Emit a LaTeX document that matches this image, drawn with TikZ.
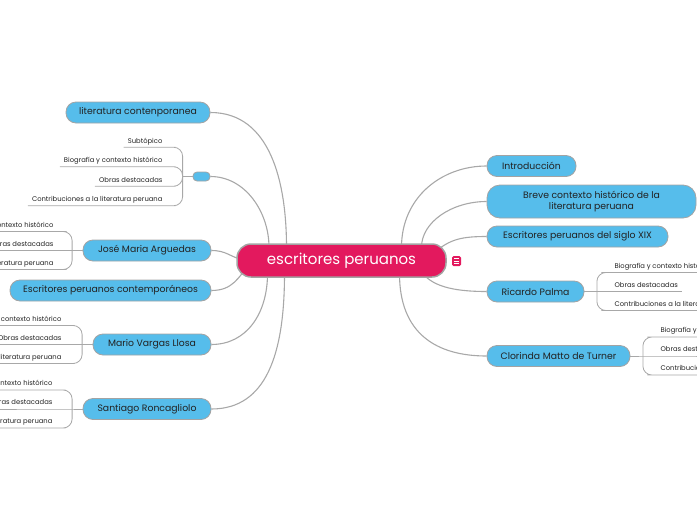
\documentclass[tikz,border=0pt]{standalone}
\usepackage{fontspec}
\setmainfont{Poppins}
\usepackage{xcolor}
\usetikzlibrary{backgrounds}

\definecolor{xanh}{HTML}{56BDEB}
\definecolor{hong}{HTML}{E3195E}
\definecolor{vien}{HTML}{A3A3A3}
\definecolor{day}{HTML}{A8A8A8}
\definecolor{chu}{HTML}{222222}

\begin{document}
\begin{tikzpicture}[x=1pt, y=-1pt,
    chude/.style={draw=vien, line width=0.8pt, fill=xanh, rounded corners=10pt,
        minimum height=21pt, inner sep=0pt, text=chu, font=\fontsize{9.3}{11}\selectfont},
    goc/.style={draw=vien, line width=1.5pt, fill=hong, rounded corners=14pt,
        minimum width=209pt, minimum height=33pt, text=white, font=\fontsize{15}{18}\selectfont},
    phu/.style={inner xsep=4pt, inner ysep=2.5pt, text height=5pt, text depth=1.5pt,
        text=chu, font=\fontsize{6.8}{8}\selectfont},
    noi/.style={draw=day, line width=1.1pt},
    nhanh/.style={draw=day, line width=0.8pt, rounded corners=9pt}]
    \useasboundingbox (0,0) rectangle (697,520);
    \clip (0,0) rectangle (697,520);

    % Nút gốc
    \node[goc] (goc) at (341.5,260.5) {escritores peruanos};
    \node[fill=hong, rounded corners=1.5pt, minimum width=9pt, minimum height=10pt, inner sep=0pt] (ghichu) at (456.5,261) {};
    \foreach \k in {-2.3,0,2.3}
        \draw[white, line width=0.8pt] ([xshift=-2.3pt, yshift=\k pt]ghichu.center) -- ++(4.6pt,0);

    % Các chủ đề bên trái
    \node[chude, minimum width=144pt] (lit) at (138,112.5) {literatura contenporanea};
    \node[chude, minimum width=17pt, minimum height=9pt, rounded corners=4pt] (rong) at (201.5,176.5) {};
    \node[chude, minimum width=128pt] (jose) at (147,250.5) {José Maria Arguedas};
    \node[chude, minimum width=201pt] (esc) at (110.5,290.5) {Escritores peruanos contemporáneos};
    \node[chude, minimum width=118pt] (mario) at (152,344.5) {Mario Vargas Llosa};
    \node[chude, minimum width=128pt] (santiago) at (147,409) {Santiago Roncagliolo};

    % Các chủ đề bên phải
    \node[chude, minimum width=89pt] (intro) at (531.5,166) {Introducción};
    \node[chude, minimum width=209pt, minimum height=33pt, rounded corners=13pt, align=center] (breve) at (591.5,201.5)
        {Breve contexto histórico de la\\literatura peruana};
    \node[chude, minimum width=181pt] (siglo) at (577.5,236.5) {Escritores peruanos del siglo XIX};
    \node[chude, minimum width=97pt] (ricardo) at (535.5,291.5) {Ricardo Palma};
    \node[chude, minimum width=143pt] (clorinda) at (558.5,356) {Clorinda Matto de Turner};

    % Đường nối từ nút gốc
    \begin{scope}[on background layer]
        \draw[noi] ([xshift=-55pt, yshift=-4pt]goc.north) .. controls +(0,-65) and +(60,0) .. (lit.east);
        \draw[noi] ([xshift=-72.5pt, yshift=-4pt]goc.north) .. controls +(0,-35) and +(35,0) .. (rong.east);
        \draw[noi] (jose.east) .. controls +(15,0) and +(-15,-4) .. ([xshift=8pt]goc.west);
        \draw[noi] (esc.east) .. controls +(22,0) and +(-10,10) .. ([xshift=12pt, yshift=-6pt]goc.west);
        \draw[noi] ([xshift=-74pt, yshift=4pt]goc.south) .. controls +(0,40) and +(35,0) .. (mario.east);
        \draw[noi] ([xshift=-57pt, yshift=4pt]goc.south) .. controls +(0,80) and +(55,0) .. (santiago.east);
        \draw[noi] ([xshift=60pt, yshift=-4pt]goc.north) .. controls +(0,-50) and +(-45,0) .. (intro.west);
        \draw[noi] ([xshift=80pt, yshift=-4pt]goc.north) .. controls +(0,-25) and +(-35,0) .. (breve.west);
        \draw[noi] ([xshift=-11pt, yshift=-8pt]goc.north east) .. controls +(15,-12) and +(-25,0) .. (siglo.west);
        \draw[noi] ([xshift=-26pt, yshift=7pt]goc.south east) .. controls +(10,15) and +(-35,0) .. (ricardo.west);
        \draw[noi] ([xshift=58pt, yshift=4pt]goc.south) .. controls +(0,60) and +(-50,0) .. (clorinda.west);
    \end{scope}

    % Nhánh con của nút rỗng
    \coordinate (brong) at ([xshift=-10pt]rong.west);
    \node[phu, anchor=south east] (rong1) at ([xshift=-26pt, yshift=29.25pt]rong.west) {Subtópico};
    \node[phu, anchor=south east] (rong2) at ([xshift=-26pt, yshift=9.75pt]rong.west) {Biografía y contexto histórico};
    \node[phu, anchor=south east] (rong3) at ([xshift=-26pt, yshift=-9.75pt]rong.west) {Obras destacadas};
    \node[phu, anchor=south east] (rong4) at ([xshift=-26pt, yshift=-29.25pt]rong.west) {Contribuciones a la literatura peruana};
    \draw[noi, line width=0.8pt] (rong.west) -- (brong);
    \foreach \i in {1,...,4}
        \draw[nhanh] (brong) |- (rong\i.south east) -- (rong\i.south west);

    % Nhánh con bên trái
    \foreach \p/\d in {jose/25pt, mario/27pt, santiago/26pt} {
        \coordinate (b\p) at ([xshift=-10.5pt]\p.west);
        \node[phu, anchor=south east] (\p1) at ([xshift=-\d, yshift=19pt]\p.west) {Biografía y contexto histórico};
        \node[phu, anchor=south east] (\p2) at ([xshift=-\d]\p.west) {Obras destacadas};
        \node[phu, anchor=south east] (\p3) at ([xshift=-\d, yshift=-19pt]\p.west) {Contribuciones a la literatura peruana};
        \draw[nhanh] (\p.west) -- (\p2.south east) -- (\p2.south west);
        \draw[nhanh] (b\p) |- (\p1.south east) -- (\p1.south west);
        \draw[nhanh] (b\p) |- (\p3.south east) -- (\p3.south west);
    }

    % Nhánh con bên phải
    \foreach \p in {ricardo, clorinda} {
        \coordinate (b\p) at ([xshift=12.5pt]\p.east);
        \node[phu, anchor=south west] (\p1) at ([xshift=26pt, yshift=19pt]\p.east) {Biografía y contexto histórico};
        \node[phu, anchor=south west] (\p2) at ([xshift=26pt]\p.east) {Obras destacadas};
        \node[phu, anchor=south west] (\p3) at ([xshift=26pt, yshift=-19pt]\p.east) {Contribuciones a la literatura peruana};
        \draw[nhanh] (\p.east) -- (\p2.south west) -- (\p2.south east);
        \draw[nhanh] (b\p) |- (\p1.south west) -- (\p1.south east);
        \draw[nhanh] (b\p) |- (\p3.south west) -- (\p3.south east);
    }
\end{tikzpicture}
\end{document}
